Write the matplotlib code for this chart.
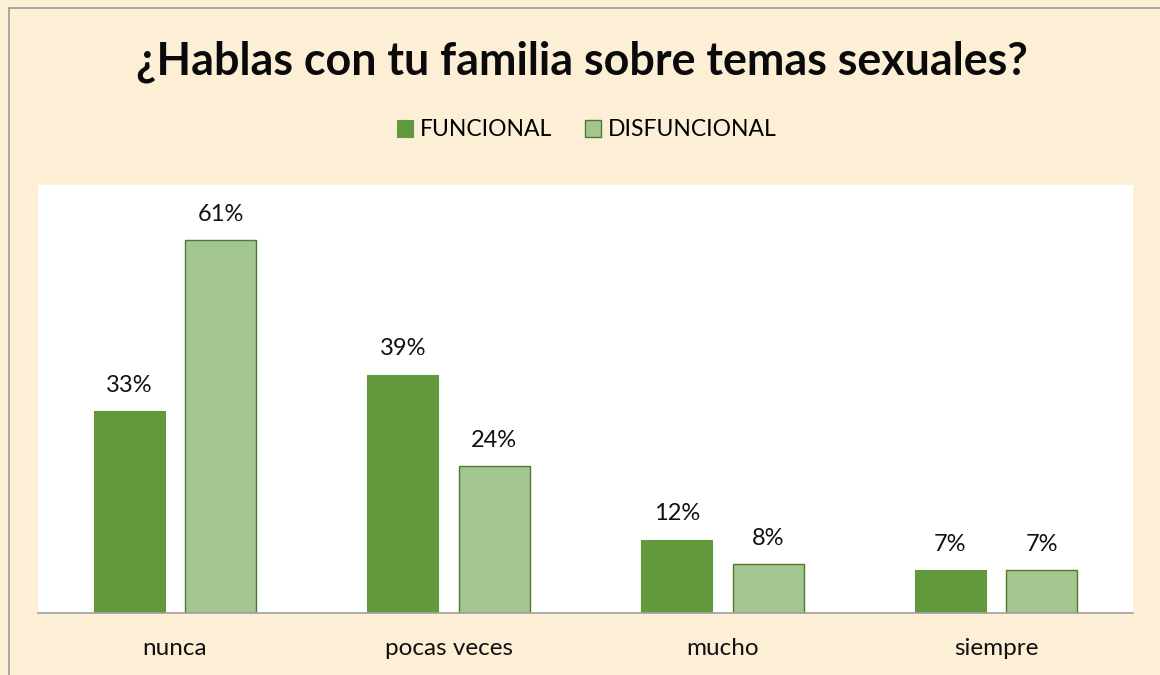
import matplotlib
matplotlib.use("Agg")
import matplotlib.pyplot as plt
from matplotlib.patches import Rectangle
import numpy as np

categories = ["nunca", "pocas veces", "mucho", "siempre"]
funcional = [33, 39, 12, 7]
disfuncional = [61, 24, 8, 7]
series_names = ["FUNCIONAL", "DISFUNCIONAL"]

plt.rcParams["font.family"] = ["Lato", "DejaVu Sans"]

fig = plt.figure(figsize=(11.6, 6.75), dpi=100)
fig.patch.set_facecolor("#FCEFD6")

# thin grey frame around the chart area
fig.patches.append(Rectangle((9 / 1160, -0.1), 1.2, (675 - 8) / 675 + 0.1,
                             transform=fig.transFigure, fill=False,
                             edgecolor="#9A9A9A", linewidth=1.2))

ax = fig.add_axes([38 / 1160, 62 / 675, 1095 / 1160, 428 / 675])
ax.set_facecolor("white")

x = np.arange(len(categories))
w = 0.26
off = 0.167
b1 = ax.bar(x - off, funcional, w, color="#62993D", edgecolor="#62993D",
            linewidth=0.8, label=series_names[0])
b2 = ax.bar(x + off, disfuncional, w, color="#A3C58F", edgecolor="#4E7A32",
            linewidth=1.0, label=series_names[1])

for bars, vals in ((b1, funcional), (b2, disfuncional)):
    for bar, v in zip(bars, vals):
        ax.annotate(f"{v}%", (bar.get_x() + bar.get_width() / 2, v),
                    xytext=(0, 11), textcoords="offset points",
                    ha="center", va="bottom", fontsize=17, color="#111111")

ax.set_xlim(-0.5, len(categories) - 0.5)
ax.set_ylim(0, 70)
ax.set_yticks([])
ax.set_xticks(x)
ax.set_xticklabels(categories, fontsize=17.5, color="#111111")
ax.tick_params(axis="x", length=0, pad=18)
for side in ("top", "left", "right"):
    ax.spines[side].set_visible(False)
ax.spines["bottom"].set_color("#A0A0A0")
ax.spines["bottom"].set_linewidth(1.2)

fig.text(0.502, 1 - 62 / 675, "¿Hablas con tu familia sobre temas sexuales?",
         ha="center", va="center", fontsize=32.3, fontweight="bold", color="#0A0A0A")

fig.legend(handles=[b1, b2], labels=series_names, loc="center",
           bbox_to_anchor=(0.506, 1 - 130 / 675), ncol=2, frameon=False,
           fontsize=16.5, handlelength=0.7, handleheight=0.7,
           handletextpad=0.3, columnspacing=1.45)

fig.savefig("out.png", dpi=100, facecolor=fig.get_facecolor())
